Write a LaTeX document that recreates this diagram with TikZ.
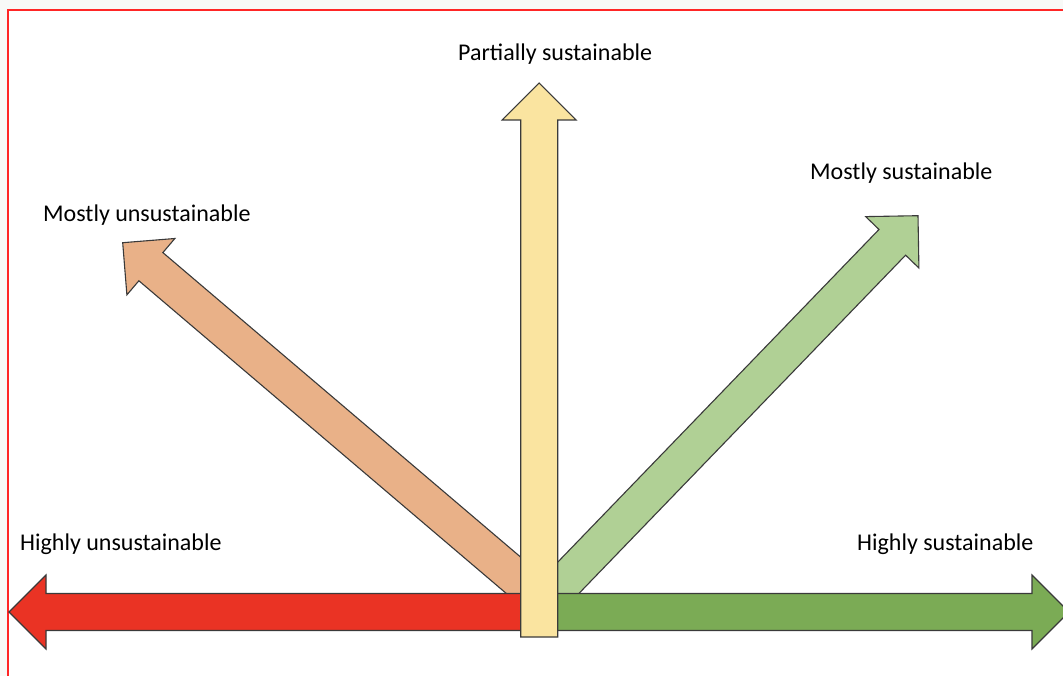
\documentclass[tikz,border=0pt]{standalone}
\usepackage{fontspec}
\setmainfont{Carlito}
\definecolor{pagegray}{RGB}{248,249,247}
\definecolor{framered}{RGB}{255,38,38}
\definecolor{redfill}{RGB}{234,51,36}
\definecolor{orangefill}{RGB}{233,177,136}
\definecolor{yellowfill}{RGB}{250,228,160}
\definecolor{lightgreenfill}{RGB}{176,208,149}
\definecolor{greenfill}{RGB}{123,171,85}
\definecolor{outline}{RGB}{58,58,58}
\tikzset{
  shape outline/.style={draw=outline, line width=1.1pt, line join=miter},
  label text/.style={inner sep=0pt, anchor=base west,
    font=\fontsize{24}{28}\selectfont, text=black},
  % block arrow with its tip at the pic origin, pointing along -x;
  % #1 = length from tip to tail, #2 = fill colour
  pics/blockarrow/.style n args={2}{code={
    \draw[shape outline, fill=#2]
      (0,0) -- (37,37) -- (37,18.5) -- (#1,18.5) -- (#1,-18.5)
      -- (37,-18.5) -- (37,-37) -- cycle;
  }},
}
\begin{document}
\begin{tikzpicture}[x=1pt,y=-1pt]
  \useasboundingbox (0,0) rectangle (1063,676);
  % page and frame
  \fill[pagegray] (0,0) rectangle (1063,676);
  \fill[white] (8,10) rectangle (1063,676);
  \draw[framered, line width=1.5pt] (8,676) -- (8,10) -- (1063,10);

  % diagonal arrows (under the axis arrows)
  \pic[rotate=-40.4] (mostlyunsus) at (122.7,242.7) {blockarrow={545}{orangefill}};
  \pic[rotate=-134] (mostlysus) at (918,215.7) {blockarrow={545}{lightgreenfill}};

  % horizontal axis arrows
  \pic (highlyunsus) at (9,612) {blockarrow={530}{redfill}};
  \pic[rotate=180] (highlysus) at (1069,612) {blockarrow={530}{greenfill}};

  % vertical arrow on top
  \pic[rotate=-90] (partsus) at (539.2,83) {blockarrow={554}{yellowfill}};

  % labels
  \node[label text] (lblpart) at (458,61) {Partially sustainable};
  \node[label text] (lblmunsus) at (43,222) {Mostly unsustainable};
  \node[label text] (lblmsus) at (810,180) {Mostly sustainable};
  \node[label text] (lblhunsus) at (20,550) {Highly unsustainable};
  \node[label text] (lblhsus) at (857,550) {Highly sustainable};
\end{tikzpicture}
\end{document}
